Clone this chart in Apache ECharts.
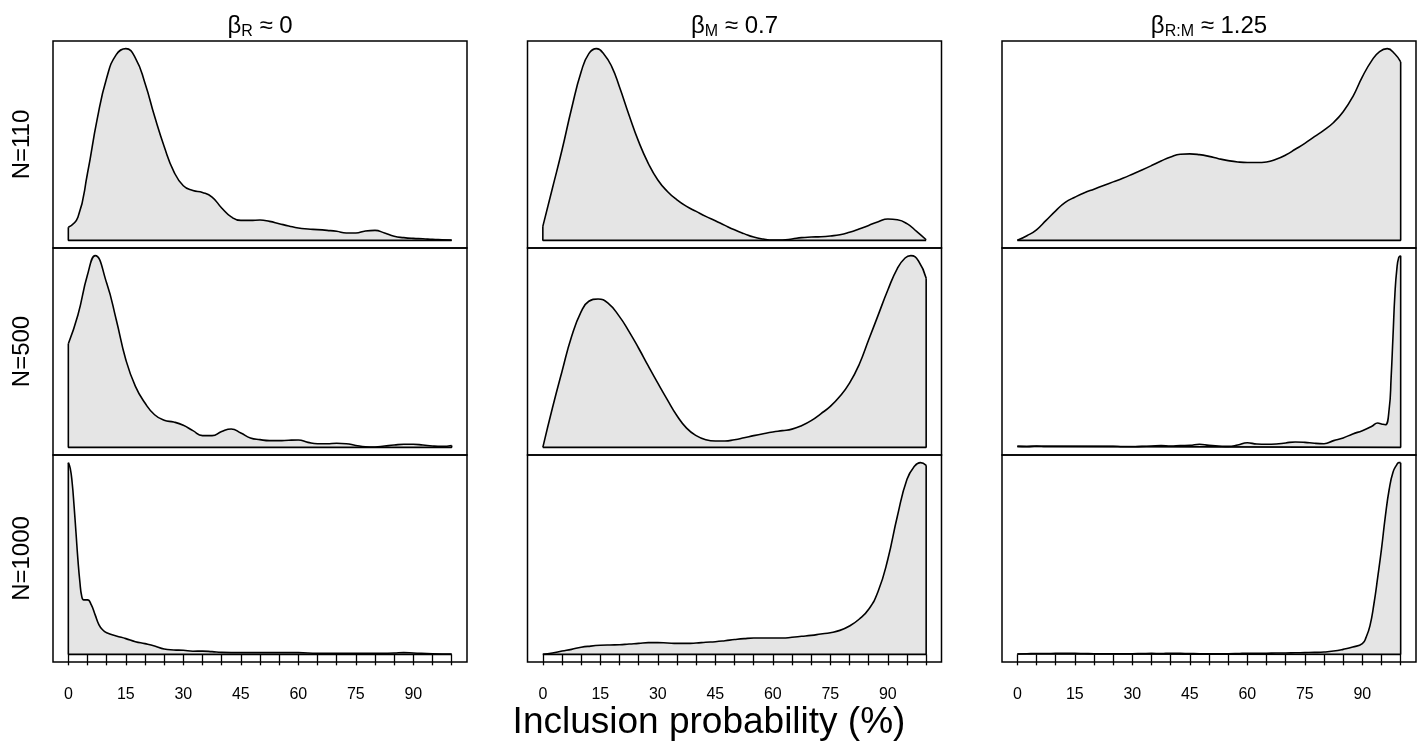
<!DOCTYPE html>
<html>
<head>
<meta charset="utf-8">
<title>Inclusion probability densities</title>
<script src="https://cdn.jsdelivr.net/npm/echarts@6.0.0/dist/echarts.min.js"></script>
<style>
  html, body { margin: 0; padding: 0; background: #fff; }
  #chart { width: 1417px; height: 747px; }
</style>
</head>
<body>
<div id="chart"></div>
<script>
// inclusion probability (%) grid used by most panels
const xGrid = [0, 2.5, 5, 7.5, 10, 12.5, 15, 17.5, 20, 22.5, 25, 27.5, 30, 32.5, 35, 37.5, 40, 42.5, 45, 47.5,
  50, 52.5, 55, 57.5, 60, 62.5, 65, 67.5, 70, 72.5, 75, 77.5, 80, 82.5, 85, 87.5, 90, 92.5, 95, 97.5, 100];

// densities, scaled so each panel's max is 1
// beta_R, N=110
const densR110 = [0.068, 0.12, 0.35, 0.63, 0.847, 0.969, 1.0, 0.951, 0.82, 0.647, 0.49, 0.36, 0.285, 0.26, 0.25, 0.226,
  0.169, 0.122, 0.104, 0.104, 0.106, 0.099, 0.087, 0.075, 0.064, 0.059, 0.056, 0.052, 0.047, 0.038, 0.038, 0.049,
  0.052, 0.038, 0.021, 0.014, 0.010, 0.008, 0.005, 0.003, 0.001];
// beta_R, N=500
const xR500 = [0, 2.5, 5, 7, 10, 12.5, 15, 17.5, 20, 22.5, 25, 27.5, 30, 32.5, 35, 37.5, 40, 42.5, 45, 47.5,
  50, 52.5, 55, 57.5, 60, 62.5, 65, 67.5, 70, 72.5, 75, 77.5, 80, 82.5, 85, 87.5, 90, 92.5, 95, 97.5, 100];
const densR500 = [0.54, 0.69, 0.90, 1.0, 0.857, 0.666, 0.457, 0.318, 0.231, 0.17, 0.141, 0.132, 0.115, 0.087, 0.061,
  0.061, 0.083, 0.096, 0.075, 0.049, 0.04, 0.035, 0.035, 0.037, 0.038, 0.026, 0.019, 0.019, 0.021, 0.019, 0.01, 0.003,
  0.002, 0.007, 0.012, 0.016, 0.016, 0.012, 0.007, 0.005, 0.01];
// beta_R, N=1000
const xR1000 = [0, 0.5, 1, 1.5, 2, 2.5, 3, 3.5, 4, 5, 6, 7, 8, 9, 10, 12.5, 15, 17.5, 20, 22.5, 25, 27.5, 30, 32.5, 35,
  37.5, 40, 45, 50, 55, 60, 65, 70, 75, 80, 85, 87.5, 90, 95, 100];
const densR1000 = [1.0, 0.97, 0.895, 0.773, 0.634, 0.494, 0.38, 0.302, 0.284, 0.284, 0.258, 0.206, 0.154, 0.127, 0.113,
  0.096, 0.082, 0.066, 0.056, 0.044, 0.028, 0.023, 0.021, 0.016, 0.017, 0.014, 0.010, 0.009, 0.009, 0.009, 0.009,
  0.005, 0.005, 0.005, 0.005, 0.007, 0.009, 0.007, 0.003, 0.002];

// beta_M, N=110
const xM110 = [0, 2.5, 5, 7.5, 10, 12, 14, 16, 18, 20, 22.5, 25, 27.5, 30, 32.5, 35, 37.5, 40, 42.5, 45, 47.5,
  50, 52.5, 55, 57.5, 60, 62.5, 65, 67.5, 70, 72.5, 75, 77.5, 80, 82.5, 85, 87.5, 90, 92.5, 95, 97.5, 100];
const densM110 = [0.073, 0.272, 0.471, 0.688, 0.879, 0.974, 1.0, 0.97, 0.905, 0.80, 0.653, 0.515, 0.402, 0.315, 0.255,
  0.211, 0.177, 0.151, 0.125, 0.102, 0.078, 0.055, 0.035, 0.017, 0.007, 0.002, 0.002, 0.007, 0.014, 0.017, 0.019,
  0.023, 0.029, 0.042, 0.059, 0.078, 0.097, 0.111, 0.107, 0.087, 0.047, 0.003];
// beta_M, N=500
const xM500 = [0, 2.5, 5, 7.5, 10, 12, 14.4, 17, 20, 22.5, 25, 27.5, 30, 32.5, 35, 37.5, 40, 42.5, 45, 47.5,
  50, 52.5, 55, 57.5, 60, 62.5, 65, 67.5, 70, 72.5, 75, 77.5, 80, 82.5, 85, 87.5, 90, 92.5, 94.5, 96, 98, 100];
const densM500 = [0, 0.205, 0.396, 0.578, 0.708, 0.762, 0.774, 0.752, 0.682, 0.604, 0.517, 0.425, 0.335, 0.248, 0.165,
  0.10, 0.061, 0.04, 0.033, 0.033, 0.04, 0.05, 0.061, 0.071, 0.08, 0.087, 0.095, 0.113, 0.139, 0.175, 0.214, 0.266,
  0.335, 0.431, 0.561, 0.691, 0.821, 0.934, 0.988, 1.0, 0.972, 0.882];
// beta_M, N=1000
const xM1000 = [0, 2.5, 5, 7.5, 10, 12.5, 15, 17.5, 20, 22.5, 25, 27.5, 30, 32.5, 35, 37.5, 40, 42.5, 45, 47.5,
  50, 52.5, 55, 57.5, 60, 62.5, 65, 67.5, 70, 72.5, 75, 77.5, 80, 82.5, 85, 87.5, 90, 92.5, 95, 97, 98.5, 100];
const densM1000 = [0, 0.007, 0.017, 0.026, 0.037, 0.043, 0.047, 0.049, 0.05, 0.054, 0.057, 0.061, 0.061, 0.059, 0.057,
  0.057, 0.059, 0.063, 0.066, 0.071, 0.077, 0.082, 0.085, 0.085, 0.085, 0.085, 0.089, 0.094, 0.099, 0.106, 0.113,
  0.125, 0.148, 0.183, 0.235, 0.33, 0.496, 0.722, 0.913, 0.982, 1.0, 0.986];

// beta_R:M, N=110
const xRM110 = [0, 2.5, 5, 7.5, 10, 12.5, 15, 17.5, 20, 22.5, 25, 27.5, 30, 32.5, 35, 37.5, 40, 42.5, 45, 47.5,
  50, 52.5, 55, 57.5, 60, 62.5, 65, 67.5, 70, 72.5, 75, 77.5, 80, 82.5, 85, 87.5, 90, 92.5, 94.5, 96.5, 98.5, 100];
const densRM110 = [0, 0.024, 0.055, 0.104, 0.154, 0.198, 0.225, 0.248, 0.267, 0.286, 0.305, 0.324, 0.345, 0.367, 0.39,
  0.414, 0.435, 0.449, 0.451, 0.447, 0.438, 0.426, 0.416, 0.409, 0.406, 0.406, 0.409, 0.423, 0.445, 0.475, 0.506,
  0.541, 0.575, 0.615, 0.671, 0.749, 0.853, 0.939, 0.985, 1.0, 0.972, 0.931];
// beta_R:M, N=500
const xRM500 = [0, 2.5, 5, 7.5, 10, 12.5, 15, 17.5, 20, 22.5, 25, 27.5, 30, 32.5, 35, 37.5, 40, 42.5, 45, 47.5,
  50, 52.5, 55, 57.5, 60, 62.5, 65, 67.5, 70, 72.5, 75, 77.5, 80, 82.5, 85, 87.5, 90, 92.5, 94, 95, 96, 97, 97.5,
  98, 98.5, 99, 99.5, 100];
const densRM500 = [0.005, 0.003, 0.007, 0.005, 0.005, 0.005, 0.005, 0.005, 0.005, 0.005, 0.005, 0.003, 0.003, 0.005,
  0.007, 0.009, 0.007, 0.009, 0.01, 0.016, 0.010, 0.007, 0.005, 0.012, 0.024, 0.017, 0.016, 0.017, 0.023, 0.028,
  0.026, 0.021, 0.019, 0.035, 0.049, 0.07, 0.087, 0.11, 0.127, 0.122, 0.118, 0.2, 0.36, 0.58, 0.8, 0.93, 0.99, 1.0];
// beta_R:M, N=1000
const xRM1000 = [0, 2.5, 5, 7.5, 10, 12.5, 15, 17.5, 20, 22.5, 25, 27.5, 30, 32.5, 35, 37.5, 40, 42.5, 45, 47.5,
  50, 52.5, 55, 57.5, 60, 62.5, 65, 67.5, 70, 72.5, 75, 77.5, 80, 82.5, 85, 87.5, 90, 91, 92, 93, 94, 95, 96, 97, 98,
  99, 99.5, 100];
const densRM1000 = [0.002, 0.003, 0.004, 0.004, 0.005, 0.005, 0.005, 0.004, 0.003, 0.003, 0.003, 0.003, 0.003, 0.004,
  0.005, 0.004, 0.006, 0.005, 0.004, 0.003, 0.003, 0.003, 0.003, 0.004, 0.006, 0.006, 0.006, 0.007, 0.007, 0.008,
  0.009, 0.010, 0.012, 0.017, 0.026, 0.038, 0.056, 0.09, 0.15, 0.26, 0.40, 0.55, 0.72, 0.86, 0.95, 0.99, 1.0, 1.0];

const tickValues = [0, 5, 10, 15, 20, 25, 30, 35, 40, 45, 50, 55, 60, 65, 70, 75, 80, 85, 90, 95, 100];
const labelValues = [0, 15, 30, 45, 60, 75, 90];
const rowLabels = ['N=110', 'N=500', 'N=1000'];
// column titles: [symbol, subscript, rest]
const colTitles = [['β', 'R', ' ≈ 0'], ['β', 'M', ' ≈ 0.7'], ['β', 'R:M', ' ≈ 1.25']];
const xLabel = 'Inclusion probability (%)';

// panels row by row
const panels = [
  { x: xGrid, y: densR110 }, { x: xM110, y: densM110 }, { x: xRM110, y: densRM110 },
  { x: xR500, y: densR500 }, { x: xM500, y: densM500 }, { x: xRM500, y: densRM500 },
  { x: xR1000, y: densR1000 }, { x: xM1000, y: densM1000 }, { x: xRM1000, y: densRM1000 }
];

const FONT = '"Liberation Sans", Arial, Helvetica, sans-serif';
const colLeft = [53, 527.5, 1002];
const rowTop = [41, 248, 455];
const boxW = 414;
const boxH = 207;

const grid = [], xAxis = [], yAxis = [], series = [];

panels.forEach((p, i) => {
  const r = Math.floor(i / 3), c = i % 3;
  const bottom = r === 2;
  grid.push({
    left: colLeft[c], top: rowTop[r], width: boxW, height: boxH,
    show: true, borderColor: '#000', borderWidth: 1.5, backgroundColor: 'transparent'
  });
  xAxis.push({
    type: 'value', gridIndex: i, min: -4, max: 104,
    axisLine: { show: false },
    splitLine: { show: false },
    axisTick: { show: bottom, customValues: tickValues, length: 11, lineStyle: { color: '#000', width: 1.3 } },
    axisLabel: { show: bottom, customValues: labelValues, margin: 25, color: '#000', fontSize: 16, fontFamily: FONT }
  });
  yAxis.push({
    type: 'value', gridIndex: i, min: -0.04, max: 1.04, show: false, splitLine: { show: false }
  });

  const pts = p.x.map((x, k) => [x, p.y[k]]);
  const last = p.x.length - 1;
  series.push({
    type: 'line', xAxisIndex: i, yAxisIndex: i, data: pts,
    smooth: 0.5, symbol: 'none', silent: true,
    lineStyle: { color: '#000', width: 1.6 },
    areaStyle: { color: '#e5e5e5', opacity: 1 }
  });
  // polygon edges: the two sides and the baseline
  series.push({
    type: 'line', xAxisIndex: i, yAxisIndex: i,
    data: [[p.x[0], p.y[0]], [p.x[0], 0], [p.x[last], 0], [p.x[last], p.y[last]]],
    symbol: 'none', silent: true,
    lineStyle: { color: '#000', width: 1.6 }
  });
});

const graphic = [];
colTitles.forEach((t, c) => {
  graphic.push({
    type: 'text', x: colLeft[c] + boxW / 2, y: 26,
    style: {
      text: '{b|' + t[0] + '}{s|' + t[1] + '}{b|' + t[2] + '}',
      align: 'center', verticalAlign: 'middle', fill: '#000',
      rich: {
        b: { fontSize: 24, lineHeight: 28, fontFamily: FONT, fill: '#000' },
        s: { fontSize: 16, lineHeight: 17, fontFamily: FONT, fill: '#000', verticalAlign: 'bottom' }
      }
    }
  });
});
rowLabels.forEach((t, r) => {
  graphic.push({
    type: 'text', x: 22, y: rowTop[r] + boxH / 2, rotation: Math.PI / 2,
    style: { text: t, align: 'center', verticalAlign: 'middle', fontSize: 24, fontFamily: FONT, fill: '#000' }
  });
});
graphic.push({
  type: 'text', x: 709, y: 723,
  style: { text: xLabel, align: 'center', verticalAlign: 'middle', fontSize: 37, fontFamily: FONT, fill: '#000' }
});

const chart = echarts.init(document.getElementById('chart'), null, { renderer: 'canvas' });
chart.setOption({
  animation: false,
  backgroundColor: '#fff',
  grid, xAxis, yAxis, series, graphic
});
</script>
</body>
</html>
